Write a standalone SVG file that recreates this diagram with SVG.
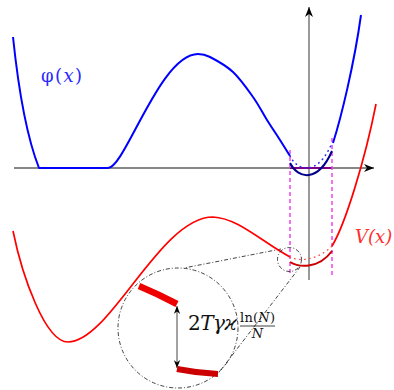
<svg xmlns="http://www.w3.org/2000/svg" width="394" height="390" viewBox="0 0 394 390">
<style>
.blue{fill:none;stroke:#0000ff;stroke-width:2;stroke-linejoin:round}
.navy{fill:none;stroke:#00008b;stroke-width:2}
.bdot{fill:none;stroke:#2a2aff;stroke-width:1.6;stroke-dasharray:0.5 4.5;stroke-linecap:round}
.red{fill:none;stroke:#ff0000;stroke-width:1.7}
.dred{fill:none;stroke:#cc0000;stroke-width:2}
.rdot{fill:none;stroke:#ff4d4d;stroke-width:1.4;stroke-dasharray:0.5 4.5;stroke-linecap:round}
.mag{stroke:#ee44ee;stroke-width:1.5;stroke-dasharray:4 3}
.dd{fill:none;stroke:#111;stroke-width:0.8;stroke-dasharray:4 2 1 2}
.lbl{font-family:"DejaVu Serif","Liberation Serif",serif}
</style>
<defs>
<marker id="ah" viewBox="0 0 10 8" refX="10" refY="4" markerWidth="10" markerHeight="8" markerUnits="userSpaceOnUse" orient="auto">
<path d="M0,0 L10,4 L0,8 L3,4 Z" fill="#000"/>
</marker>
<marker id="ah2" viewBox="0 0 10 8" refX="10" refY="4" markerWidth="8" markerHeight="7" markerUnits="userSpaceOnUse" orient="auto-start-reverse">
<path d="M0,0 L10,4 L0,8 L3,4 Z" fill="#000"/>
</marker>
</defs>
<g id="connectors">
<line id="x-axis" x1="14" y1="168" x2="374" y2="168" stroke="#111" stroke-width="1.2" marker-end="url(#ah)"/>
<line id="y-axis" x1="309" y1="280" x2="309" y2="7" stroke="#808080" stroke-width="1.6" marker-end="url(#ah)"/>
<line x1="290" y1="168" x2="332" y2="168" stroke="#800080" stroke-width="2"/>
<line class="mag" x1="290" y1="150" x2="290" y2="274"/>
<line class="mag" x1="332" y1="138" x2="332" y2="276"/>
<line class="dd" x1="281" y1="249" x2="184" y2="268"/>
<line class="dd" x1="300" y1="267" x2="217" y2="375"/>
<line x1="177" y1="306" x2="177" y2="368" stroke="#666" stroke-width="1.2" marker-start="url(#ah2)" marker-end="url(#ah2)"/>
</g>
<g id="phi">
<path class="blue" d="M13,37 C18,85 26,135 39,168 L108,168 C125,168 160,54 198,54 C202.2,54 204.2,54 210,57 C215.8,60 225.8,65.3 233,72 C240.2,78.7 247.3,89 253,97 C258.7,105 262.5,112.8 267,120 C271.5,127.2 276.2,134 280,140 C283.8,146 288.3,153.3 290,156"/>
<path class="bdot" d="M290,156 C298,172 318,176 332,143"/>
<path class="navy" d="M290,163 C298,179 318,183 332,151"/>
<path class="blue" d="M333,143 C341,118 354,65 361,15"/>
<text class="lbl" x="41" y="82" font-size="18" fill="#2a2aff" textLength="41">φ(<tspan font-style="italic">x</tspan>)</text>
</g>
<g id="V">
<path class="red" d="M13,231 C22,275 45,342 68,342 C110,342 160,217 213,217 C238,218 262,242 290,257"/>
<path class="rdot" d="M290,257 C300,262 318,260 332,246"/>
<path class="dred" d="M290,262 C298,267 318,270 332,251"/>
<path class="red" d="M332,246 C345,225 365,160 376,104"/>
<text class="lbl" x="355" y="243" font-size="18" fill="#ff3030" font-style="italic">V(x)</text>
</g>
<g id="zoom-small">
<circle class="dd" cx="289.5" cy="259.5" r="12"/>
</g>
<g id="zoom-big">
<circle class="dd" cx="178" cy="328" r="60"/>
<path d="M139,286 Q158,294 177,304" fill="none" stroke="#ee0000" stroke-width="6.5"/>
<path d="M177,369 Q197,373 218,374" fill="none" stroke="#cc0000" stroke-width="6"/>
<text class="lbl" x="188" y="330" font-size="20" fill="#111" textLength="49">2<tspan font-style="italic">Tγϰ</tspan></text>
<text class="lbl" x="240" y="322" font-size="13" fill="#111" textLength="35">ln(<tspan font-style="italic">N</tspan>)</text>
<line x1="240" y1="326" x2="275" y2="326" stroke="#111" stroke-width="0.8"/>
<text class="lbl" x="257.5" y="338" font-size="13" fill="#111" font-style="italic" text-anchor="middle">N</text>
</g>
</svg>
